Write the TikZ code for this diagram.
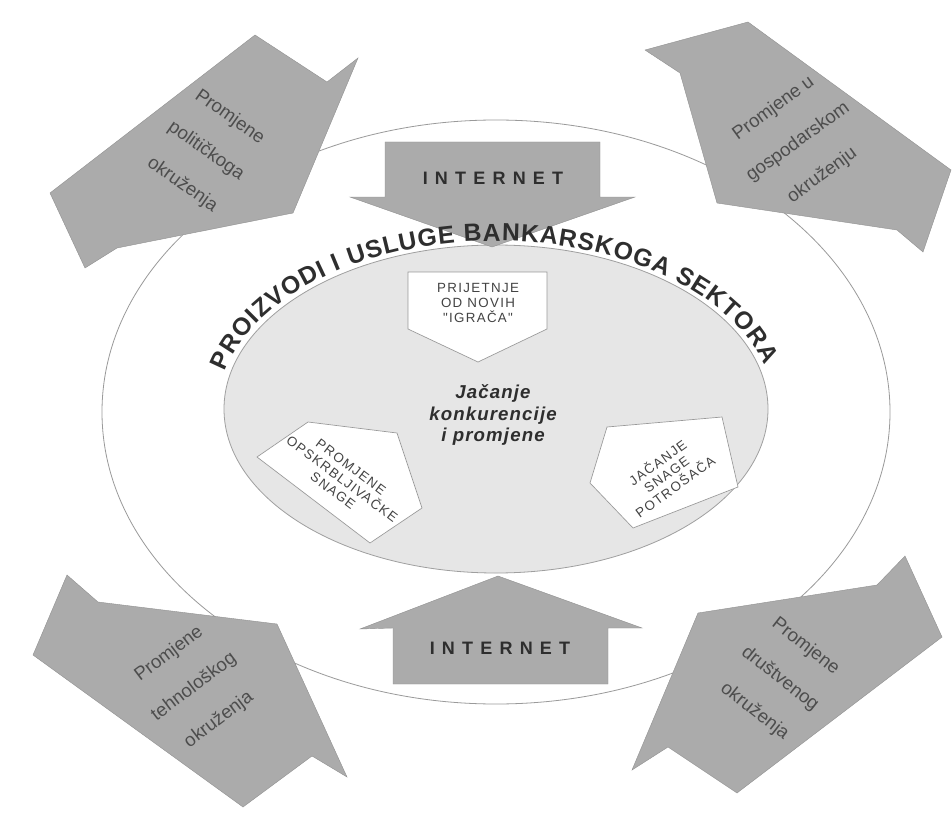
\documentclass[tikz,border=0pt]{standalone}
\usepackage{fontspec}
\setmainfont{Liberation Sans}
\newfontfamily\widefont[LetterSpace=40]{Liberation Sans}
\newfontfamily\tagfont[LetterSpace=10]{Liberation Sans}
\newfontfamily\midfont[LetterSpace=6]{Liberation Sans}
\usetikzlibrary{decorations.text}

\definecolor{arrowgray}{HTML}{ABABAB}
\definecolor{coregray}{HTML}{E6E6E6}
\definecolor{linegray}{HTML}{9A9A9A}
\definecolor{ink}{HTML}{2E2E2E}

\begin{document}
\begin{tikzpicture}[x=0.75pt,y=0.75pt,
  blockarrow/.style={fill=arrowgray, draw=arrowgray!85!black, line width=0.3pt, line join=miter},
  forcebox/.style={fill=white, draw=gray!80, line width=0.5pt},
  cornertext/.style={font=\fontsize{14}{31}\selectfont, text=ink!85, align=center, inner sep=0pt},
  nettext/.style={font=\widefont\bfseries\fontsize{13.5}{14}\selectfont, text=ink},
  tagtext/.style={font=\tagfont\fontsize{10}{11.2}\selectfont, text=ink!90, align=center, inner sep=0pt},
]
% canvas
\fill[white] (0,0) rectangle (952,-838);
\useasboundingbox (0,0) rectangle (952,-838);

% environment ring and banking core
\draw[linegray, line width=0.6pt, fill=white] (496,-412) ellipse [x radius=394, y radius=292];
\draw[gray!75, line width=0.6pt, fill=coregray] (496,-409) ellipse [x radius=272, y radius=164];

% corner pressures
\draw[blockarrow] (255,-35) -- (327,-82) -- (358,-58) -- (293,-213) -- (117,-248) -- (85,-268) -- (50,-193) -- cycle;
\draw[blockarrow] (748,-22) -- (645,-50) -- (680,-73) -- (717,-203) -- (897,-230) -- (923,-252) -- (951,-170) -- cycle;
\draw[blockarrow] (67,-575) -- (98,-602) -- (277,-624) -- (347,-777) -- (312,-756) -- (243,-807) -- (33,-655) -- cycle;
\draw[blockarrow] (698,-613) -- (877,-585) -- (905,-556) -- (942,-637) -- (737,-793) -- (668,-747) -- (632,-770) -- cycle;

\node[cornertext, rotate=-35] (political) at (206,-151) {Promjene\\političkoga\\okruženja};
\node[cornertext, rotate=36] (economic) at (798,-142) {Promjene u\\gospodarskom\\okruženju};
\node[cornertext, rotate=37] (technological) at (194,-687) {Promjene\\tehnološkog\\okruženja};
\node[cornertext, rotate=-38] (social) at (780,-679) {Promjene\\društvenog\\okruženja};

% internet arrows
\draw[blockarrow] (385,-142) -- (600,-142) -- (600,-197) -- (635,-197) -- (492,-247) -- (350,-197) -- (385,-197) -- cycle;
\draw[blockarrow] (498,-576) -- (642,-628) -- (608,-628) -- (608,-684) -- (393,-684) -- (393,-628) -- (360,-629) -- cycle;
\node[nettext] (netTop) at (493,-178) {INTERNET};
\node[nettext] (netBot) at (500,-648) {INTERNET};

% curved title along the core
\path[decorate, decoration={text along path,
    text={|\bfseries\fontsize{18.5}{18.5}\selectfont\color{ink}|PROIZVODI I USLUGE BANKARSKOGA SEKTORA},
    text align={fit to path}}]
  (496,-409) ++(167:278 and 168) arc[start angle=167, end angle=15, x radius=278, y radius=168];

% competitive forces
\draw[forcebox] (408,-272) -- (547,-272) -- (547,-329) -- (478,-362) -- (408,-329) -- cycle;
\node[tagtext] (newcomers) at (478,-303) {PRIJETNJE\\OD NOVIH\\"IGRAČA"};

\draw[forcebox] (308,-422) -- (397,-433) -- (422,-508) -- (370,-543) -- (257,-457) -- cycle;
\node[tagtext, rotate=-37] (suppliers) at (342,-479) {PROMJENE\\OPSKRBLJIVAČKE\\SNAGE};

\draw[forcebox] (607,-427) -- (722,-417) -- (738,-487) -- (633,-528) -- (590,-483) -- cycle;
\node[tagtext, rotate=36] (buyers) at (666,-474) {JAČANJE\\SNAGE\\POTROŠAČA};

\node[font=\midfont\bfseries\itshape\fontsize{14}{16}\selectfont, text=ink, align=center] (core) at (493,-415)
  {Jačanje\\konkurencije\\i promjene};
\end{tikzpicture}
\end{document}
